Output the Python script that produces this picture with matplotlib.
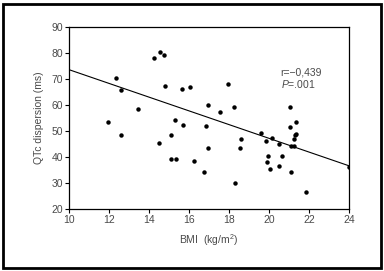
import matplotlib.pyplot as plt
from matplotlib.patches import Rectangle

plt.rcParams['font.family'] = ['Liberation Sans', 'DejaVu Sans']
plt.rcParams['mathtext.fontset'] = 'custom'
plt.rcParams['mathtext.rm'] = 'Liberation Sans'
plt.rcParams['mathtext.it'] = 'Liberation Sans:italic'

# BMI (kg/m2) and QTc dispersion (ms)
bmi = [11.93, 12.33, 12.58, 12.58, 13.43, 14.23, 14.53, 14.77, 14.5, 14.82,
       15.12, 15.08, 15.33, 15.3, 15.63, 15.72, 16.03, 16.25, 16.77, 16.83,
       16.93, 16.95, 17.53, 17.93, 18.23, 18.28, 18.53, 18.62, 19.62, 19.83,
       19.93, 19.92, 20.03, 20.17, 20.5, 20.5, 20.63, 21.03, 21.03, 21.1,
       21.1, 21.23, 21.25, 21.32, 21.35, 21.37, 21.85, 23.98]
qtc = [53.3, 70.5, 65.7, 48.3, 58.3, 78.0, 80.4, 79.2, 45.3, 67.3,
       48.3, 39.3, 39.3, 54.1, 66.0, 52.3, 66.9, 38.3, 34.3, 52.1,
       60.1, 43.3, 57.3, 68.2, 59.2, 30.0, 43.5, 47.1, 49.3, 46.0,
       40.3, 38.2, 35.2, 47.3, 45.1, 36.6, 40.3, 59.1, 51.4, 44.2,
       34.2, 44.2, 47.1, 48.3, 48.9, 53.3, 26.5, 36.3]

# regression line end points
fit_x = [10, 24]
fit_y = [73.6, 36.6]

xticks = [10, 12, 14, 16, 18, 20, 22, 24]
yticks = [20, 30, 40, 50, 60, 70, 80, 90]

txt = '#4a4a4a'

fig = plt.figure(figsize=(3.84, 2.71), dpi=100)
ax = fig.add_axes([0.180, 0.229, 0.729, 0.671])

ax.plot(fit_x, fit_y, color='black', lw=0.8)
ax.plot(bmi, qtc, 'o', color='black', ms=3.2, mew=0)

ax.set_xlim(10, 24)
ax.set_ylim(20, 90)
ax.set_xticks(xticks)
ax.set_yticks(yticks)
ax.tick_params(direction='out', length=3, width=0.8, labelsize=7.5,
               labelcolor=txt, pad=1.5)
for s in ax.spines.values():
    s.set_linewidth(0.9)

ax.set_xlabel('BMI  (kg/m$^2$)', fontsize=7.5, color=txt, labelpad=5)
ax.set_ylabel('QTc dispersion (ms)', fontsize=7.5, color=txt, labelpad=5)

ax.text(20.55, 71.4, 'r=\u22120,439', fontsize=7.5, color=txt)
ax.text(20.6, 66.6, '$P$=.001', fontsize=7.5, color=txt)

# outer frame
fig.patches.append(Rectangle((0.008, 0.012), 0.983, 0.975, transform=fig.transFigure,
                             fill=False, lw=2, edgecolor='black'))

fig.savefig('out.png', dpi=100)
